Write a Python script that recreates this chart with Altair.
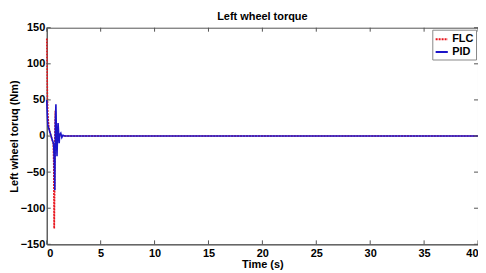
import altair as alt
import pandas as pd

flc_t = [0, 0.03, 0.06, 0.1, 0.15, 0.2, 0.3, 0.4, 0.5, 0.6, 0.65, 0.68, 0.7, 0.73, 0.76, 0.8, 0.84, 0.9, 1.0, 1.2, 1.5, 5, 10, 20, 30, 40]
flc_v = [135, 100, 53, 30, 20, 12, 5, 0, -5, -10, -40, -128, -128, -80, 0, 35, 12, -3, 1, 0, 0, 0, 0, 0, 0, 0]

pid_t = [0, 0.05, 0.1, 0.2, 0.3, 0.4, 0.5, 0.6, 0.65, 0.7, 0.75, 0.8, 0.85, 0.9, 0.95, 1.0, 1.05, 1.1, 1.15, 1.2, 1.3, 1.4, 1.5, 1.7, 2, 5, 10, 20, 30, 40]
pid_v = [50, 30, 15, 10, 5, 0, -5, -9, -15, -40, -75, 20, 44, 0, -28, 0, 18, 5, -10, 2, 4, -2, 1, 0, 0, 0, 0, 0, 0, 0]

x_ticks = [0, 5, 10, 15, 20, 25, 30, 35, 40]
y_ticks = [-150, -100, -50, 0, 50, 100, 150]

rows = [{"t": t, "v": v, "s": "FLC", "o": i} for i, (t, v) in enumerate(zip(flc_t, flc_v))]
rows += [{"t": t, "v": v, "s": "PID", "o": i} for i, (t, v) in enumerate(zip(pid_t, pid_v))]
df = pd.DataFrame(rows)
xt = pd.DataFrame({"t": x_ticks})
yt = pd.DataFrame({"v": y_ticks})

font = "Liberation Sans"
W, H = 434, 218
tick_col = "#555555"

xs = alt.Scale(domain=[0, 40], nice=False)
ys = alt.Scale(domain=[-150, 150], nice=False)

x_axis = alt.Axis(values=x_ticks, grid=False, tickSize=0, labelPadding=3, titlePadding=0,
                  labelOverlap=False)
y_axis = alt.Axis(values=y_ticks, grid=False, tickSize=0, labelPadding=2, titlePadding=1,
                  labelOverlap=False)
x_title = "Time (s)"
y_title = "Left wheel toruq (Nm)"

lines = alt.Chart(df).mark_line(strokeWidth=1.6).encode(
    x=alt.X("t:Q", title=x_title, scale=xs, axis=x_axis),
    y=alt.Y("v:Q", title=y_title, scale=ys, axis=y_axis),
    color=alt.Color("s:N", title=None,
                    scale=alt.Scale(domain=["FLC", "PID"], range=["#e8141c", "#1c14c8"]),
                    legend=alt.Legend(orient="top-right", fillColor="white", strokeColor="#888888",
                                      padding=2, offset=2, labelFont=font, labelFontWeight="bold",
                                      labelFontSize=11, symbolType="stroke", symbolSize=150,
                                      symbolStrokeWidth=2, rowPadding=0, labelOffset=3,
                                      labelColor="black")),
    strokeDash=alt.StrokeDash("s:N", scale=alt.Scale(domain=["FLC", "PID"], range=[[2, 1], [1, 0]]),
                              legend=None),
    order="o:Q",
)

xb = alt.Chart(xt).mark_rule(color=tick_col, strokeWidth=1).encode(
    x=alt.X("t:Q", title=x_title, scale=xs, axis=x_axis), y=alt.value(H), y2=alt.value(H - 4))
xtp = alt.Chart(xt).mark_rule(color=tick_col, strokeWidth=1).encode(
    x=alt.X("t:Q", title=x_title, scale=xs, axis=x_axis), y=alt.value(0), y2=alt.value(4))
yl = alt.Chart(yt).mark_rule(color=tick_col, strokeWidth=1).encode(
    y=alt.Y("v:Q", title=y_title, scale=ys, axis=y_axis), x=alt.value(0), x2=alt.value(4))
yr = alt.Chart(yt).mark_rule(color=tick_col, strokeWidth=1).encode(
    y=alt.Y("v:Q", title=y_title, scale=ys, axis=y_axis), x=alt.value(W), x2=alt.value(W - 4))

chart = alt.layer(lines, xb, xtp, yl, yr).properties(
    width=W, height=H,
    autosize=alt.AutoSizeParams(type="none"),
    padding={"left": 39, "top": 19, "right": 0, "bottom": 25},
    title=alt.TitleParams("Left wheel torque", font=font, fontSize=11, fontWeight="bold", offset=0),
).configure_axis(
    labelFont=font, labelFontWeight="bold", labelFontSize=11, labelColor="black",
    titleFont=font, titleFontWeight="bold", titleFontSize=11, titleColor="black",
    domainColor=tick_col,
).configure_view(stroke=tick_col)

chart.save("out.html", embed_options={"renderer": "svg", "actions": False})
